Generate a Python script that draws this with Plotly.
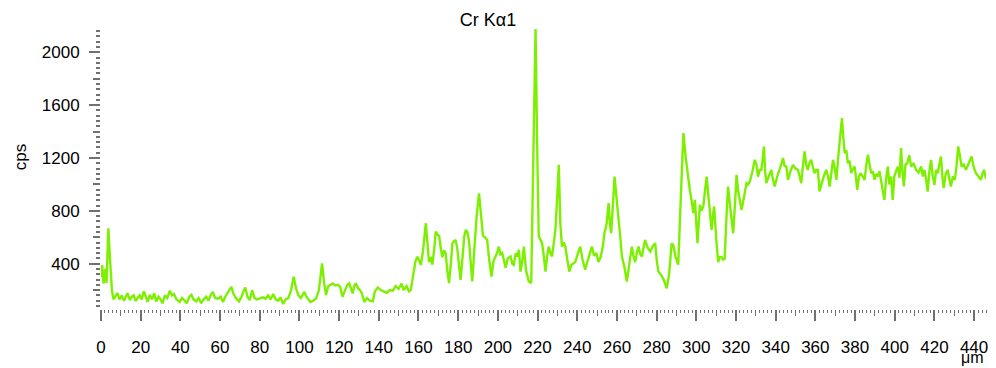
import plotly.graph_objects as go

# Position along line scan (µm) and Cr Kα1 count rate (cps)
distance_um = [
    0, 0.6, 1.3, 2.2, 2.8, 3.7, 4.6, 5.5, 6.3, 7.3, 8.3, 9.3, 10.5, 11.6, 12.5, 13.4, 14.5, 15.5, 16.5, 17.4,
    18.5, 19.5, 20.5, 21.6, 22.6, 23.5, 24.6, 25.7, 26.8, 27.8, 29, 30, 31, 32.2, 33.4, 34.7, 35.8, 36.8, 38, 39.7,
    40.8, 42, 43.2, 44.5, 45.6, 46.6, 48, 49.2, 50.5, 51.7, 53, 54.2, 55.5, 56.4, 57.5, 59, 60.3, 61.5, 62.6, 63.8,
    64.8, 65.7, 66.8, 68, 69.5, 70.8, 71.8, 72.7, 73.8, 75, 76.2, 77.3, 78.5, 80, 81.5, 83, 84.2, 85.5, 86.8, 88,
    89.3, 90.5, 91.8, 93, 94.4, 95.8, 97.1, 98.3, 99.5, 100.7, 102.5, 103.5, 104.5, 105.5, 107, 108.5, 109.8, 111.4, 112.4, 113.4,
    114.5, 115.7, 116.7, 118, 119.5, 120.5, 121.7, 123, 124.2, 125.1, 126.8, 127.6, 128.4, 129.5, 130.5, 131.5, 132.7, 134, 135.5, 137,
    138, 139.5, 141, 142.5, 144, 145.5, 147, 148.5, 150, 151.5, 152.5, 154, 155.2, 156.1,
    157.3, 158.5, 159.5, 160.3, 161.2, 162.3, 163.7, 164.5, 165.3, 166.2, 167, 168, 168.7, 169.6, 170.4, 171.2, 172, 172.9, 173.7, 174.5,
    175.4, 176.3, 177.1, 178, 178.7, 179.5, 180.3, 181.2, 182.2, 183, 183.8, 184.6, 185.4, 186.3, 187.1, 188.2, 189.3, 190.5, 191.5, 192.5,
    193.5, 194.6, 195.7, 196.8, 197.8, 198.8, 199.6, 200.5, 201.3, 202.2, 203.9, 205, 206.4, 207.3, 208, 209, 209.7, 210.6, 211.4, 212.3,
    213.1, 214.2, 215.6, 216.8, 217.9, 219, 219.8, 220.6, 221.5, 222.3, 223.2, 224, 224.8, 225.6, 226.5, 227.3, 228.2, 229, 229.9, 230.7,
    231.5, 232.3, 233.2, 234, 235, 236, 237, 238, 239, 240.2, 241.5, 242.7, 244, 245.2, 246.3, 247.4, 248.5, 249.6, 250.7, 251.8,
    252.8, 253.7, 254.8, 255.8, 256.5, 257.1, 258, 258.8, 259.8, 260.8, 261.7, 262.5, 263.7, 265, 266.3, 267.5, 268.3, 269.2, 270, 270.9,
    271.8, 272.6, 273.4, 274.2, 275.5, 276.8, 278, 279.3, 280.1, 280.9, 282, 282.6, 283.6, 285.1, 286.3, 287.6, 288.4, 289.6, 290.9, 292.2,
    293.5, 294.7, 296, 296.8, 297.6, 298.5, 299.3, 300.6, 301.8, 302.6, 303.5, 304.3, 305.2, 306.5, 307.7, 308.3, 309, 310, 311, 311.8,
    312.7, 313.5, 314.3, 315.2, 316, 317.3, 318.6, 319.5, 320.3, 321.1, 321.9, 322.8, 324, 325.3, 326.1, 327, 328.3, 329.5, 330.3, 331.1,
    332, 332.8, 333.5, 334.1, 334.7, 335.3, 336.5, 337.8, 338.6, 339.5, 340.8, 342, 343, 343.7, 344.5, 345.4, 346.2, 347.5, 348.7, 350,
    351.2, 352.1, 352.9, 353.8, 354.6, 355.4, 356.2, 357, 357.9, 358.8, 359.6, 360.5, 361.3, 362.1, 363, 364.2, 365.5, 366.4, 367.2, 368,
    368.9, 369.8, 370.6, 371.5, 372.5, 373.4, 374.1, 374.8, 375.6, 376.4, 377.2, 378.1, 379, 379.8, 380.5, 381.1, 382, 382.8, 383.8, 384.8,
    385.7, 386.5, 387.3, 388.2, 389, 389.8, 390.7, 391.5, 392.3, 393.2, 394, 394.8, 395.7, 396.5, 397.3, 398.2, 399, 399.8, 400.7, 401.6,
    402.4, 403.2, 403.9, 404.6, 405.4, 406.3, 407.3, 408.3, 409.5, 410.8, 412, 413.3, 414.2, 415, 415.8, 416.6, 417.5, 418.3, 419.2, 420,
    420.9, 421.7, 422.5, 423.3, 424, 424.7, 425.7, 426.7, 427.5, 428.3, 429.3, 430.3, 431.2, 432, 432.8, 433.7, 434.8, 435.9, 437.3, 438.7,
    439.8, 440.9, 442.2, 443.4, 444.2, 445, 446,
]
counts_cps = [
    300, 390, 250, 360, 255, 668, 420, 200, 130, 150, 178, 130, 160, 120, 150, 178, 125, 150, 160, 118,
    140, 160, 130, 190, 150, 110, 165, 130, 175, 115, 150, 130, 100, 160, 140, 195, 160, 170, 130, 110,
    140, 125, 100, 150, 165, 130, 115, 140, 100, 130, 150, 120, 170, 186, 140, 135, 150, 110, 150, 180,
    200, 224, 170, 140, 115, 150, 190, 220, 150, 125, 200, 140, 130, 140, 145, 135, 160, 130, 170, 130,
    120, 145, 95, 130, 140, 200, 302, 210, 160, 140, 186, 150, 130, 110, 120, 140, 200, 403, 260, 163,
    230, 240, 251, 235, 240, 225, 150, 200, 240, 251, 175, 230, 251, 215, 200, 175, 110, 140, 120, 115,
    190, 220, 200, 190, 180, 200, 195, 230, 210, 250, 200, 230, 190, 200,
    330, 420, 453, 420, 392, 500, 706, 560, 412, 450, 392, 520, 643, 620, 610, 520, 449, 500, 480, 350,
    253, 400, 555, 570, 580, 520, 380, 278, 450, 600, 655, 640, 580, 400, 265, 520, 760, 933, 760, 610,
    600, 580, 420, 303, 420, 455, 480, 529, 470, 480, 370, 440, 455, 400, 392, 480, 455, 505, 340, 420,
    529, 350, 265, 253, 1200, 2183, 1300, 610, 580, 555, 450, 340, 450, 529, 480, 455, 560, 655, 900, 1148,
    700, 529, 560, 529, 430, 340, 390, 400, 412, 470, 529, 430, 355, 420, 480, 529, 460, 480, 412, 450,
    520, 630, 700, 858, 700, 630, 850, 1059, 900, 756, 600, 455, 380, 265, 400, 529, 460, 412, 480, 529,
    470, 455, 520, 580, 520, 492, 530, 555, 420, 340, 320, 303, 280, 213, 320, 555, 540, 450, 392, 900,
    1388, 1200, 1035, 950, 883, 782, 883, 555, 845, 800, 833, 950, 1059, 850, 655, 750, 833, 600, 412, 450,
    450, 430, 437, 750, 984, 800, 630, 850, 1072, 950, 883, 807, 900, 1009, 1000, 1022, 1100, 1186, 1150, 1059,
    1110, 1110, 1200, 1287, 1100, 1009, 1060, 1110, 1040, 984, 1060, 1110, 1160, 1199, 1140, 1135, 1034, 1100, 1148, 1120,
    1110, 1060, 1009, 1150, 1249, 1150, 1110, 1160, 1186, 1130, 1085, 1110, 1110, 946, 1000, 1060, 1110, 1060, 984, 1100,
    1186, 1120, 1034, 1200, 1380, 1501, 1350, 1236, 1260, 1160, 1180, 1085, 1120, 1135, 1050, 958, 1060, 1085, 1060, 1034,
    1150, 1224, 1150, 1085, 1100, 1034, 1080, 1060, 1100, 1022, 980, 883, 1050, 1135, 1000, 1060, 883, 1060, 1100, 1135,
    1050, 1275, 1100, 984, 1150, 1160, 1220, 1135, 1160, 1110, 1090, 1135, 1060, 1110, 1040, 946, 1100, 1186, 1060, 997,
    1110, 1085, 1150, 1211, 1060, 972, 1080, 1110, 1040, 984, 1060, 1034, 1150, 1287, 1220, 1135, 1150, 1110, 1160, 1211,
    1130, 1085, 1060, 1034, 1080, 1110, 1040,
]

title_text = "Cr Kα1"
y_title = "cps"
x_unit = "μm"

X_RANGE = [0, 446]
Y_RANGE = [57, 2176]
FONT = "Liberation Sans, Arial, Helvetica, sans-serif"
TICK_COLOR = "#707070"

fig = go.Figure()
fig.add_trace(go.Scatter(
    x=distance_um, y=counts_cps, mode="lines",
    line=dict(color="#7cf000", width=2.4),
    showlegend=False, hoverinfo="x+y",
))
# invisible copy on overlay axes (used only for the intermediate tick marks)
fig.add_trace(go.Scatter(
    x=distance_um, y=counts_cps, mode="lines", xaxis="x2", yaxis="y2",
    line=dict(color="rgba(0,0,0,0)", width=0), showlegend=False, hoverinfo="skip",
))

fig.update_layout(
    width=996, height=368,
    margin=dict(l=101, r=8, t=29, b=59),
    paper_bgcolor="white", plot_bgcolor="white",
    font=dict(family=FONT, size=17, color="black"),
    title=dict(text=title_text, x=488 / 996, xanchor="center", y=1 - 20 / 368, yanchor="middle",
               font=dict(family=FONT, size=18, color="black")),
    xaxis=dict(
        range=X_RANGE, showgrid=False, zeroline=False, showline=False,
        tickmode="linear", tick0=0, dtick=20, ticks="outside", ticklen=11, tickwidth=1.5,
        tickcolor=TICK_COLOR, ticklabelstandoff=12,
        minor=dict(dtick=2, tick0=0, ticks="outside", ticklen=3, tickwidth=1.2, tickcolor=TICK_COLOR, showgrid=False),
        tickfont=dict(family=FONT, size=17, color="black"),
    ),
    xaxis2=dict(
        range=X_RANGE, overlaying="x", anchor="y", side="bottom", showgrid=False, zeroline=False,
        showline=False, showticklabels=False, tickmode="linear", tick0=0, dtick=10,
        ticks="outside", ticklen=6, tickwidth=1.3, tickcolor=TICK_COLOR,
    ),
    yaxis=dict(
        range=Y_RANGE, showgrid=False, zeroline=False, showline=False,
        tickmode="linear", tick0=0, dtick=400, ticks="outside", ticklen=11, tickwidth=1.5,
        tickcolor=TICK_COLOR, ticklabelstandoff=6,
        minor=dict(dtick=40, tick0=0, ticks="outside", ticklen=4, tickwidth=1.5, tickcolor=TICK_COLOR, showgrid=False),
        tickfont=dict(family=FONT, size=17, color="black"),
    ),
    yaxis2=dict(
        range=Y_RANGE, overlaying="y", anchor="x", side="left", showgrid=False, zeroline=False,
        showline=False, showticklabels=False, tickmode="linear", tick0=0, dtick=200,
        ticks="outside", ticklen=7, tickwidth=1.5, tickcolor=TICK_COLOR,
    ),
    annotations=[
        dict(text=y_title, xref="paper", yref="y", x=(20 - 101) / 887, y=1207,
             xanchor="center", yanchor="middle", textangle=-90, showarrow=False,
             font=dict(family=FONT, size=17, color="black")),
        dict(text=x_unit, xref="paper", yref="paper", x=1.0, y=(309 - 357.5) / 280,
             xanchor="right", yanchor="middle", showarrow=False,
             font=dict(family=FONT, size=16, color="black")),
    ],
)

fig.write_html("out.html")
